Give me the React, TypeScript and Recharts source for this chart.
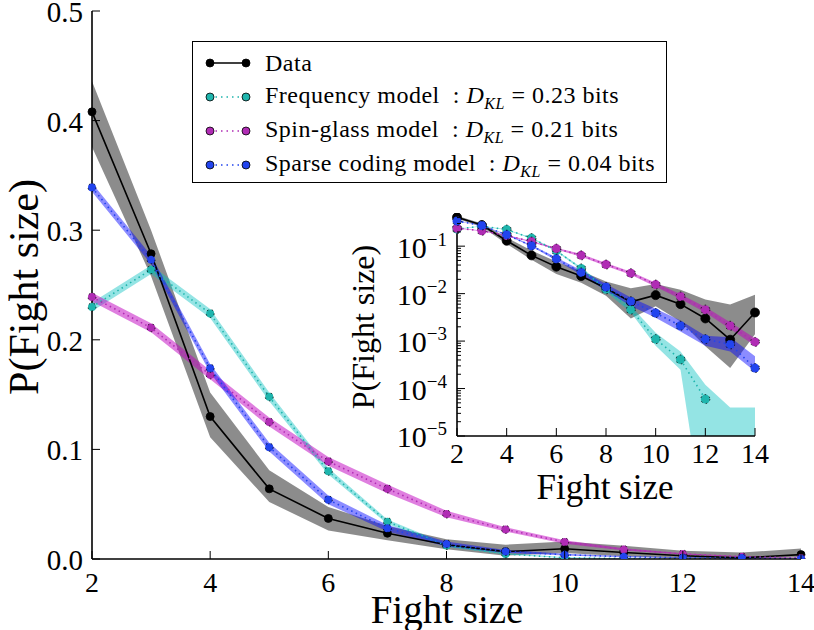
import React from 'react'
import { ComposedChart, Line, Area, XAxis, YAxis, CartesianGrid } from 'recharts'

const FONT = '"Liberation Serif", "DejaVu Serif", serif'

// fight sizes on the x axis
const sizes = [2, 3, 4, 5, 6, 7, 8, 9, 10, 11, 12, 13, 14]

// observed distribution + its band
const dataP = [0.408, 0.2785, 0.130, 0.064, 0.037, 0.0235, 0.013, 0.0067, 0.0093, 0.006, 0.003, 0.00107, 0.004]
const dataLo = [0.376, 0.258, 0.111, 0.052, 0.026, 0.017, 0.009, 0.003, 0.0054, 0.0026, 0.00078, 0.00027, 0.0014]
const dataHi = [0.436, 0.300, 0.152, 0.081, 0.0475, 0.030, 0.018, 0.013, 0.016, 0.012, 0.0075, 0.0059, 0.0095]

// frequency model
const freqP = [0.230, 0.264, 0.224, 0.148, 0.080, 0.034, 0.0123, 0.0046, 0.0011, 0.00041, 0.00006, 0, 0]
const freqLo = [0.226, 0.260, 0.220, 0.144, 0.077, 0.032, 0.011, 0.0040, 0.0008, 0.00025, 0, 0, 0]
const freqHi = [0.234, 0.268, 0.228, 0.152, 0.083, 0.036, 0.0136, 0.0055, 0.0015, 0.0006, 0.00012, 0.00004, 0.00004]

// spin-glass model
const spinP = [0.239, 0.211, 0.168, 0.125, 0.089, 0.064, 0.041, 0.027, 0.0155, 0.0087, 0.0046, 0.0021, 0.00096]
const spinLo = [0.235, 0.207, 0.164, 0.121, 0.085, 0.060, 0.038, 0.025, 0.0140, 0.0077, 0.0040, 0.0018, 0.0008]
const spinHi = [0.243, 0.215, 0.172, 0.129, 0.093, 0.068, 0.044, 0.029, 0.0170, 0.0097, 0.0052, 0.0025, 0.00115]

// sparse coding model
const sparseP = [0.339, 0.273, 0.174, 0.102, 0.054, 0.028, 0.0138, 0.0069, 0.0039, 0.0021, 0.0011, 0.00085, 0.00027]
const sparseLo = [0.335, 0.269, 0.170, 0.098, 0.050, 0.025, 0.0115, 0.0055, 0.0031, 0.0016, 0.0008, 0.0006, 0.00023]
const sparseHi = [0.343, 0.277, 0.178, 0.106, 0.058, 0.031, 0.0160, 0.0083, 0.0048, 0.0027, 0.0013, 0.0012, 0.00048]

const xTicks = [2, 4, 6, 8, 10, 12, 14]
const mainYTicks = [0, 0.1, 0.2, 0.3, 0.4, 0.5]
const decades = [1e-5, 1e-4, 1e-3, 1e-2, 1e-1]
const decadeLabels = ['−5', '−4', '−3', '−2', '−1']
const minorSteps = [2, 3, 4, 5, 6, 7, 8, 9]

const C_FREQ = '#1fb5ad'
const C_SPIN = '#b02cb4'
const C_SPARSE = '#2244ee'

const legendRows = [
  { name: 'Data', kl: '', color: '#000', dashed: false },
  { name: 'Frequency model', kl: '0.23', color: C_FREQ, dashed: true },
  { name: 'Spin-glass model', kl: '0.21', color: C_SPIN, dashed: true },
  { name: 'Sparse coding model', kl: '0.04', color: C_SPARSE, dashed: true },
]

const mainRows = sizes.map((s, i) => ({
  size: s,
  data: dataP[i],
  dataBand: [dataLo[i], dataHi[i]],
  freq: freqP[i],
  freqBand: [freqLo[i], freqHi[i]],
  spin: spinP[i],
  spinBand: [spinLo[i], spinHi[i]],
  sparse: sparseP[i],
  sparseBand: [sparseLo[i], sparseHi[i]],
}))

// log axis can't take zeros
const pos = (v: number) => (v > 0 ? v : null)
const floor = (v: number) => (v > 0 ? v : 1e-7)
const insetRows = sizes.map((s, i) => ({
  size: s,
  data: pos(dataP[i]),
  dataBand: [floor(dataLo[i]), floor(dataHi[i])],
  freq: pos(freqP[i]),
  freqBand: [floor(freqLo[i]), floor(freqHi[i])],
  spin: pos(spinP[i]),
  spinBand: [floor(spinLo[i]), floor(spinHi[i])],
  sparse: pos(sparseP[i]),
  sparseBand: [floor(sparseLo[i]), floor(sparseHi[i])],
}))

const logTicks: number[] = []
decades.forEach(d => minorSteps.forEach(m => { if (d * m < 0.5) logTicks.push(d * m) }))
logTicks.push(...decades)
logTicks.sort((a, b) => a - b)

const isDecade = (v: number) => decades.some(d => Math.abs(v - d) / d < 1e-6)

type Side = 'left' | 'right' | 'top' | 'bottom'

const makeTick = (
  side: Side,
  size: number,
  gap: number,
  label?: (v: number) => React.ReactNode,
  major: (v: number) => boolean = () => true,
) =>
  (props: any) => {
    const { x, y, payload } = props
    const big = major(payload.value)
    const len = big ? 8 : 4
    const l = { x1: x, y1: y, x2: x, y2: y }
    if (side === 'left') l.x2 = x + len
    if (side === 'right') l.x2 = x - len
    if (side === 'top') l.y2 = y + len
    if (side === 'bottom') l.y2 = y - len
    return (
      <g>
        <line {...l} stroke="#000" strokeWidth={1} />
        {label && big && side === 'left' && (
          <text x={x - gap} y={y + size * 0.38} textAnchor="end" fontFamily={FONT} fontSize={size} fill="#000">
            {label(payload.value)}
          </text>
        )}
        {label && big && side === 'bottom' && (
          <text x={x} y={y + gap} textAnchor="middle" fontFamily={FONT} fontSize={size} fill="#000">
            {label(payload.value)}
          </text>
        )}
      </g>
    )
  }

const logLabel = (v: number) => {
  const i = decades.findIndex(d => Math.abs(v - d) / d < 1e-6)
  return (
    <>
      <tspan>10</tspan>
      <tspan dy={-12} fontSize={19}>{decadeLabels[i]}</tspan>
    </>
  )
}

const dot = (c: string, r: number) => ({ r, fill: c, stroke: '#000', strokeWidth: 0.8 })

function series(r: number) {
  return [
    <Area key="db" dataKey="dataBand" type="linear" stroke="none" fill="#000" fillOpacity={0.45} isAnimationActive={false} activeDot={false} />,
    <Line key="dl" dataKey="data" type="linear" stroke="#000" strokeWidth={1.6} dot={dot('#000', r)} activeDot={false} isAnimationActive={false} />,
    <Area key="fb" dataKey="freqBand" type="linear" stroke="none" fill="#00bfbf" fillOpacity={0.42} isAnimationActive={false} activeDot={false} />,
    <Line key="fl" dataKey="freq" type="linear" stroke={C_FREQ} strokeWidth={1.6} strokeDasharray="1.5 3.5" dot={dot(C_FREQ, r)} activeDot={false} isAnimationActive={false} />,
    <Area key="sb" dataKey="spinBand" type="linear" stroke="none" fill="#bf00bf" fillOpacity={0.5} isAnimationActive={false} activeDot={false} />,
    <Line key="sl" dataKey="spin" type="linear" stroke={C_SPIN} strokeWidth={1.6} strokeDasharray="1.5 3.5" dot={dot(C_SPIN, r)} activeDot={false} isAnimationActive={false} />,
    <Area key="pb" dataKey="sparseBand" type="linear" stroke="none" fill="#0000ff" fillOpacity={0.45} isAnimationActive={false} activeDot={false} />,
    <Line key="pl" dataKey="sparse" type="linear" stroke={C_SPARSE} strokeWidth={1.6} strokeDasharray="1.5 3.5" dot={dot(C_SPARSE, r)} activeDot={false} isAnimationActive={false} />,
  ]
}

const frame = { stroke: '#000', strokeWidth: 1.6 }

function Legend() {
  return (
    <div style={{
      position: 'absolute', left: 192, top: 41, width: 473, height: 140,
      border: '1.6px solid #000', background: '#fff', fontFamily: FONT, fontSize: 24, letterSpacing: 0.5,
    }}>
      {legendRows.map((row, i) => (
        <div key={row.name} style={{ position: 'absolute', left: 0, top: 6 + i * 34, height: 30, display: 'flex', alignItems: 'center', whiteSpace: 'nowrap' }}>
          <svg width={70} height={30}>
            <line x1={17} y1={15} x2={53} y2={15} stroke={row.color} strokeWidth={1.6} strokeDasharray={row.dashed ? '1.5 4' : undefined} />
            <circle cx={17} cy={15} r={4} fill={row.color} stroke="#000" strokeWidth={0.8} />
            <circle cx={53} cy={15} r={4} fill={row.color} stroke="#000" strokeWidth={0.8} />
          </svg>
          <span style={{ marginLeft: 2 }}>
            {row.name}
            {row.kl && (
              <>
                {'\u00a0\u00a0: '}
                <i>D</i>
                <sub style={{ fontStyle: 'italic', fontSize: 16 }}>KL</sub>
                {' = ' + row.kl + ' bits'}
              </>
            )}
          </span>
        </div>
      ))}
    </div>
  )
}

const label = { position: 'absolute' as const, whiteSpace: 'nowrap' as const, lineHeight: 1 }

export default function App() {
  return (
    <div style={{ position: 'absolute', left: 0, top: 0, width: 814, height: 630, background: '#fff', fontFamily: FONT }}>
      {/* main linear plot: plot area 92..801 x 11..559 */}
      <div style={{ position: 'absolute', left: 0, top: 0 }}>
        <ComposedChart width={814} height={630} data={mainRows} margin={{ top: 11, right: 13, bottom: 41, left: 0 }}>
          <XAxis dataKey="size" type="number" domain={[2, 14]} ticks={xTicks} interval={0} height={30}
            axisLine={frame} tickLine={false} tickSize={0} tickMargin={0} tick={makeTick('bottom', 28, 33, v => v)} />
          <XAxis xAxisId="top" dataKey="size" type="number" domain={[2, 14]} ticks={xTicks} interval={0} orientation="top" height={0}
            axisLine={frame} tickLine={false} tickSize={0} tickMargin={0} tick={makeTick('top', 28, 0)} />
          <YAxis type="number" domain={[0, 0.5]} ticks={mainYTicks} interval={0} width={92} allowDataOverflow
            axisLine={frame} tickLine={false} tickSize={0} tickMargin={0} tick={makeTick('left', 29, 9, v => v.toFixed(1))} />
          <YAxis yAxisId="r" orientation="right" type="number" domain={[0, 0.5]} ticks={mainYTicks} interval={0} width={0}
            axisLine={frame} tickLine={false} tickSize={0} tickMargin={0} tick={makeTick('right', 28, 0)} />
          {series(4)}
        </ComposedChart>
      </div>

      <div style={{ ...label, left: 24, top: 287, transform: 'translate(-50%, -50%) rotate(-90deg)', fontSize: 42 }}>
        P(Fight size)
      </div>
      <div style={{ ...label, left: 447, top: 609, transform: 'translate(-50%, -50%)', fontSize: 39 }}>
        Fight size
      </div>

      <Legend />

      {/* inset log plot: plot area 457..755 x 213..436 */}
      <div style={{ position: 'absolute', left: 380, top: 200 }}>
        <ComposedChart width={400} height={300} data={insetRows} margin={{ top: 13, right: 25, bottom: 34, left: 0 }}>
          <CartesianGrid horizontal={false} vertical={false} fill="#fff" />
          <XAxis dataKey="size" type="number" domain={[2, 14]} ticks={xTicks} interval={0} height={30}
            axisLine={frame} tickLine={false} tickSize={0} tickMargin={0} tick={makeTick('bottom', 28, 27, v => v)} />
          <XAxis xAxisId="top" dataKey="size" type="number" domain={[2, 14]} ticks={xTicks} interval={0} orientation="top" height={0}
            axisLine={frame} tickLine={false} tickSize={0} tickMargin={0} tick={makeTick('top', 28, 0)} />
          <YAxis type="number" scale="log" domain={[1e-5, 0.5]} ticks={logTicks} interval={0} width={77} allowDataOverflow
            axisLine={frame} tickLine={false} tickSize={0} tickMargin={0} tick={makeTick('left', 30, 10, logLabel, isDecade)} />
          <YAxis yAxisId="r" orientation="right" type="number" scale="log" domain={[1e-5, 0.5]} ticks={logTicks} interval={0} width={0} allowDataOverflow
            axisLine={frame} tickLine={false} tickSize={0} tickMargin={0} tick={makeTick('right', 28, 0, undefined, isDecade)} />
          {series(4.5)}
        </ComposedChart>
      </div>

      <div style={{ ...label, left: 363, top: 327, transform: 'translate(-50%, -50%) rotate(-90deg)', fontSize: 32 }}>
        P(Fight size)
      </div>
      <div style={{ ...label, left: 605, top: 487, transform: 'translate(-50%, -50%)', fontSize: 35 }}>
        Fight size
      </div>
    </div>
  )
}
